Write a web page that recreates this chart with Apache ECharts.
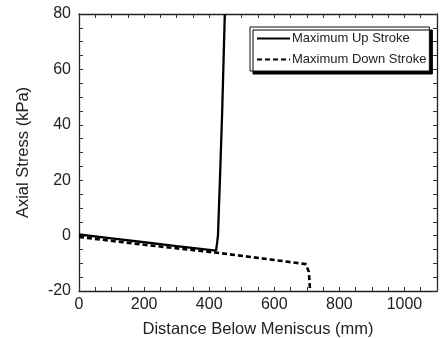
<!DOCTYPE html>
<html><head><meta charset="utf-8">
<script src="https://cdn.jsdelivr.net/npm/echarts@6/dist/echarts.min.js"></script>
<style>html,body{margin:0;padding:0;background:#fff}#c{width:443px;height:338px}</style>
</head><body><div id="c"></div>
<script>
var upX = [0, 100, 200, 300, 421, 424, 427, 433, 440, 448];
var upY = [0.4, -1.0, -2.4, -3.8, -5.4, -3.0, 0, 20, 45, 80];
var downX = [0, 200, 425, 600, 697, 703, 706, 708, 710];
var downY = [-0.5, -3.3, -6.2, -8.8, -10.3, -11.0, -13.0, -16.0, -20.0];
var xLabels = [0, 200, 400, 600, 800, 1000];
var yLabels = [-20, 0, 20, 40, 60, 80];
var seriesNames = ['Maximum Up Stroke', 'Maximum Down Stroke'];

function zip(a, b) { return a.map(function (v, i) { return [v, b[i]]; }); }
var ff = 'Liberation Sans, Arial, sans-serif';
var txt = '#222';
var axisCommon = {
  axisLine: { show: true, onZero: false, lineStyle: { color: '#222', width: 1.3 } },
  axisTick: { show: true, inside: true, length: 4, lineStyle: { color: '#333' } },
  splitLine: { show: false }
};
var chart = echarts.init(document.getElementById('c'), null, { renderer: 'canvas' });
chart.setOption({
  animation: false,
  grid: { left: 79, right: 6, top: 14, bottom: 47, containLabel: false, outerBoundsMode: 'none' },
  xAxis: [
    Object.assign({}, axisCommon, {
      type: 'value', min: 0, max: 1100, interval: 50, position: 'bottom',
      name: 'Distance Below Meniscus (mm)', nameLocation: 'middle', nameGap: 30,
      nameTextStyle: { fontFamily: ff, fontSize: 16.5, color: txt },
      axisLabel: { interval: 0, fontFamily: ff, fontSize: 16, color: txt, margin: 6,
        formatter: function (v) { return xLabels.indexOf(v) >= 0 ? String(v) : ''; } }
    }),
    Object.assign({}, axisCommon, {
      type: 'value', min: 0, max: 1100, interval: 50, position: 'top',
      axisLabel: { show: false }
    })
  ],
  yAxis: [
    Object.assign({}, axisCommon, {
      type: 'value', min: -20, max: 80, interval: 5, position: 'left',
      name: 'Axial Stress (kPa)', nameLocation: 'middle', nameGap: 47,
      nameTextStyle: { fontFamily: ff, fontSize: 16.5, color: txt },
      axisLabel: { interval: 0, fontFamily: ff, fontSize: 16, color: txt, margin: 8,
        formatter: function (v) { return yLabels.indexOf(v) >= 0 ? String(v) : ''; } }
    }),
    Object.assign({}, axisCommon, {
      type: 'value', min: -20, max: 80, interval: 5, position: 'right',
      axisLabel: { show: false }
    })
  ],
  legend: {
    orient: 'vertical', left: 250, top: 27,
    padding: [5, 3, 5, 6], itemGap: 8, itemWidth: 33, itemHeight: 13,
    backgroundColor: '#fff', borderColor: '#111', borderWidth: 1,
    shadowColor: '#000', shadowBlur: 0, shadowOffsetX: 3, shadowOffsetY: 3,
    itemStyle: { opacity: 0 },
    textStyle: { fontFamily: ff, fontSize: 13, color: txt, padding: [0, 0, 0, -3] },
    data: seriesNames
  },
  series: [
    { name: seriesNames[0], type: 'line', data: zip(upX, upY), showSymbol: false, symbol: 'none',
      lineStyle: { color: '#000', width: 2.3 }, itemStyle: { color: '#000' } },
    { name: seriesNames[1], type: 'line', data: zip(downX, downY), showSymbol: false, symbol: 'none',
      lineStyle: { color: '#000', width: 2.6, type: [5, 3] }, itemStyle: { color: '#000' } }
  ]
});
</script></body></html>
